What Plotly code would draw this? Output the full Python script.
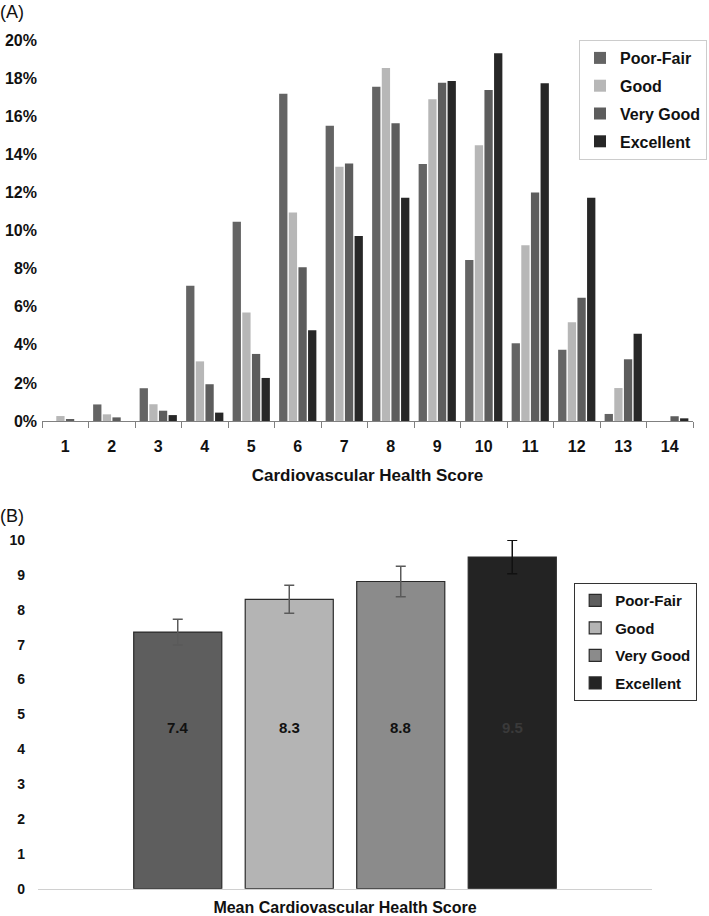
import plotly.graph_objects as go

# ---------------- data ----------------
scores = ["1", "2", "3", "4", "5", "6", "7", "8", "9", "10", "11", "12", "13", "14"]
groups = ["Poor-Fair", "Good", "Very Good", "Excellent"]

poor_fair = [0.0, 0.87, 1.72, 7.1, 10.46, 17.18, 15.5, 17.55, 13.49, 8.45, 4.08, 3.74, 0.37, 0.0]
good      = [0.26, 0.35, 0.88, 3.13, 5.7, 10.94, 13.35, 18.53, 16.89, 14.47, 9.22, 5.18, 1.73, 0.0]
very_good = [0.09, 0.19, 0.54, 1.93, 3.52, 8.07, 13.52, 15.63, 17.76, 17.38, 12.0, 6.47, 3.24, 0.25]
excellent = [0.0, 0.0, 0.31, 0.44, 2.26, 4.76, 9.71, 11.72, 17.85, 19.3, 17.73, 11.72, 4.58, 0.14]

mean_score = [7.36, 8.3, 8.81, 9.51]
mean_err   = [0.37, 0.40, 0.44, 0.48]
mean_label = ["7.4", "8.3", "8.8", "9.5"]

# ---------------- styles ----------------
W, H = 709, 916
FONT = "Liberation Sans, Arial, sans-serif"
colors_a = ["#646464", "#b7b7b7", "#5d5d5d", "#272727"]
colors_b = ["#5e5e5e", "#b4b4b4", "#8b8b8b", "#232323"]
err_colors = ["#5a5a5a", "#5a5a5a", "#5a5a5a", "#111111"]

def px_x(p):
    return p / W

def px_y(p):
    return 1 - p / H

fig = go.Figure()

series_a = [poor_fair, good, very_good, excellent]
for i, (name, vals) in enumerate(zip(groups, series_a)):
    fig.add_trace(go.Bar(
        x=scores, y=vals, name=name,
        marker=dict(color=colors_a[i], line=dict(width=0)),
        xaxis="x", yaxis="y", legend="legend", legendgroup="a" + str(i),
    ))

for i, name in enumerate(groups):
    fig.add_trace(go.Bar(
        x=[name], y=[mean_score[i]], name=name,
        marker=dict(color=colors_b[i], line=dict(color="#2a2a2a", width=1.2)),
        width=0.79, offset=-0.395,
        error_y=dict(type="data", array=[mean_err[i]], color=err_colors[i],
                     thickness=1.5, width=5, visible=True),
        cliponaxis=False,
        xaxis="x2", yaxis="y2", legend="legend2", legendgroup="b" + str(i),
    ))
    fig.add_annotation(
        x=name, y=4.62, xref="x2", yref="y2", text=mean_label[i], showarrow=False,
        font=dict(family=FONT, size=15, weight="bold",
                  color="#111111" if i < 3 else "#3a3a3a"),
    )

fig.update_layout(
    width=W, height=H,
    margin=dict(l=0, r=0, t=0, b=0, autoexpand=False),
    paper_bgcolor="white", plot_bgcolor="white",
    barmode="group", bargap=0.17, bargroupgap=0.14,
    font=dict(family=FONT, color="#111111"),
    xaxis=dict(
        domain=[px_x(42), px_x(693)], anchor="y",
        type="category", tickson="boundaries", ticks="outside", ticklen=6,
        tickcolor="#808080", showline=True, linecolor="#808080", linewidth=1.2,
        showgrid=False, ticklabelstandoff=11,
        tickfont=dict(size=16, weight="bold", family=FONT),
        title=dict(text="Cardiovascular Health Score", standoff=14,
                   font=dict(size=17, weight="bold", family=FONT)),
    ),
    yaxis=dict(
        domain=[px_y(421), px_y(40)], anchor="x",
        range=[0, 20], dtick=2, ticksuffix="%", showgrid=False, showline=False,
        zeroline=False, ticks="", ticklabelstandoff=4,
        tickfont=dict(size=16, weight="bold", family=FONT),
    ),
    xaxis2=dict(
        domain=[px_x(38), px_x(652)], anchor="y2",
        type="category", range=[-1.2534, 4.2534], showticklabels=False, ticks="",
        showline=True, linecolor="#d0d0d0", linewidth=1.2, showgrid=False,
        title=dict(text="Mean Cardiovascular Health Score", standoff=13,
                   font=dict(size=16, weight="bold", family=FONT)),
    ),
    yaxis2=dict(
        domain=[px_y(888.7), px_y(540)], anchor="x2",
        range=[0, 10], dtick=1, showgrid=False, showline=False, zeroline=False,
        ticks="", ticklabelstandoff=12,
        tickfont=dict(size=14, weight="bold", family=FONT),
    ),
    legend=dict(
        x=px_x(707), xanchor="right", y=px_y(40), yanchor="top",
        bgcolor="white", bordercolor="#cccccc", borderwidth=1,
        font=dict(size=16, weight="bold", family=FONT),
        traceorder="grouped", tracegroupgap=4, entrywidth=80,
    ),
    legend2=dict(
        x=px_x(697), xanchor="right", y=px_y(583), yanchor="top",
        bgcolor="white", bordercolor="#333333", borderwidth=1.2,
        font=dict(size=15, weight="bold", family=FONT),
        traceorder="grouped", tracegroupgap=5, entrywidth=76,
    ),
    showlegend=True,
)

fig.add_annotation(x=0, y=1, xref="paper", yref="paper", xanchor="left", yanchor="top",
                   text="(A)", showarrow=False, xshift=-2,
                   font=dict(size=18, family=FONT, color="#111111"))
fig.add_annotation(x=0, y=px_y(504), xref="paper", yref="paper", xanchor="left", yanchor="top",
                   text="(B)", showarrow=False, xshift=-2,
                   font=dict(size=18, family=FONT, color="#111111"))

fig.write_html("out.html", config={"displayModeBar": False},
               post_script="document.body.style.margin='0';")
